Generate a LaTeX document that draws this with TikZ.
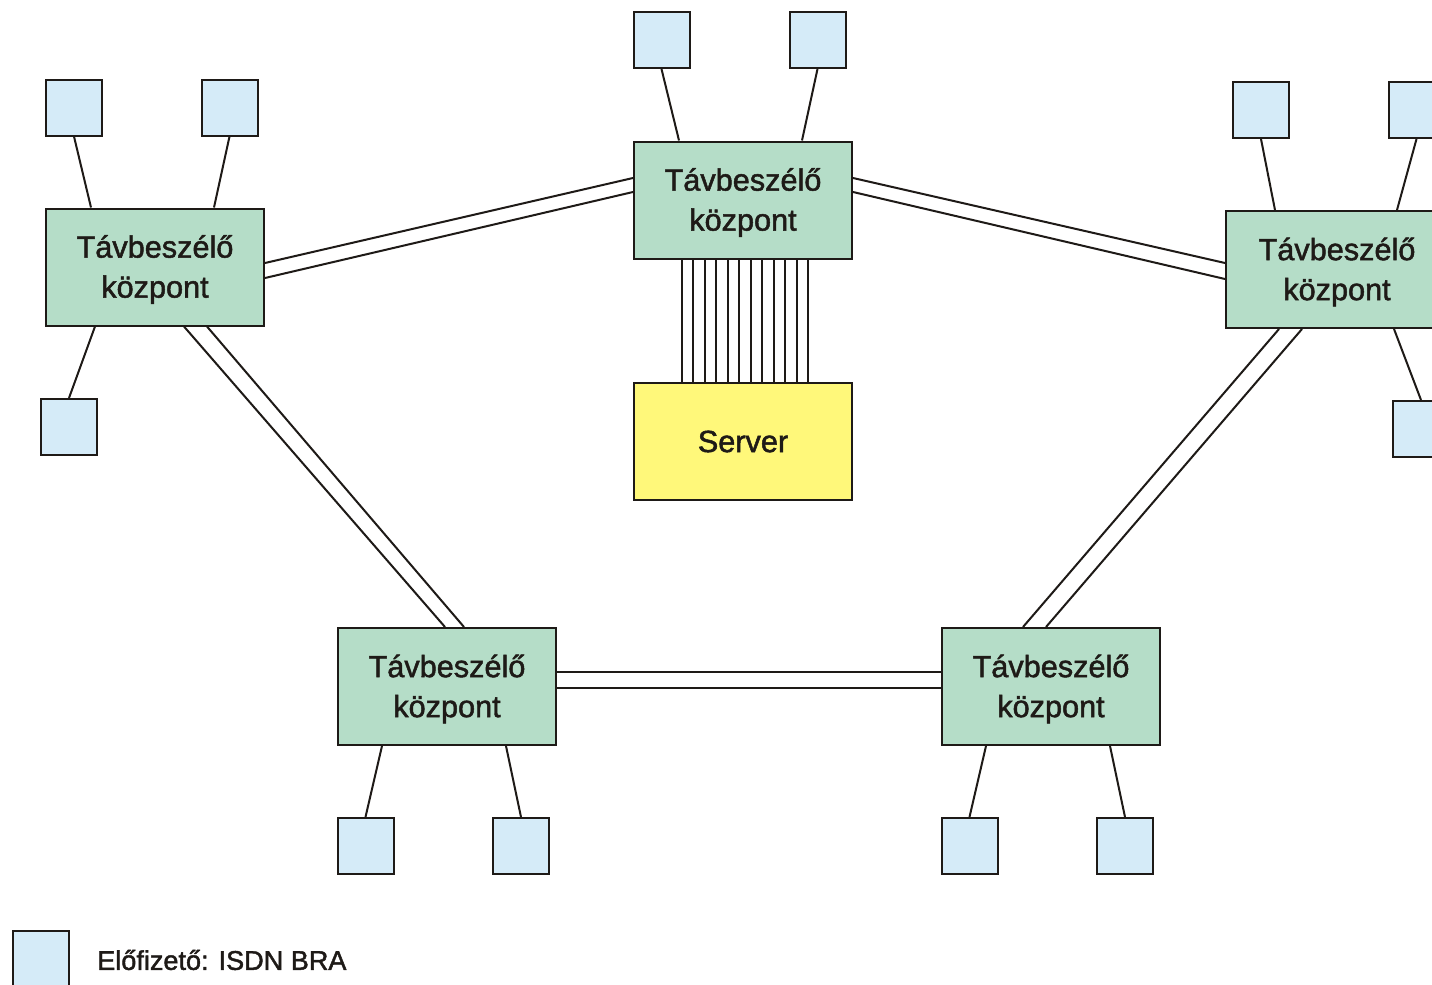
\documentclass[tikz,border=0pt]{standalone}
\usepackage{fontspec}
\setmainfont{Liberation Sans}[FakeBold=1.6]
\usetikzlibrary{calc}
\definecolor{ink}{HTML}{1E1A17}
\definecolor{exgreen}{HTML}{B5DDC8}
\definecolor{subblue}{HTML}{D5EBF8}
\definecolor{srvyellow}{HTML}{FFF87A}
\tikzset{
  lw/.style={line width=1.5pt, draw=ink},
  boxtext/.style={text=ink, font=\fontsize{23}{30}\selectfont, align=center, inner sep=0pt},
  exch/.style={lw, fill=exgreen, minimum width=218*0.75pt, minimum height=117*0.75pt, inner sep=0pt,
     label={[boxtext, yshift=-2.5*0.75pt]center:Távbeszélő\\központ}},
  server/.style={lw, fill=srvyellow, minimum width=218*0.75pt, minimum height=117*0.75pt, inner sep=0pt, text=ink, font=\fontsize{23}{30}\selectfont},
  sub/.style={lw, fill=subblue, minimum width=56*0.75pt, minimum height=56*0.75pt, inner sep=0pt},
  wire/.style={line width=1.5pt, draw=ink},
  legtext/.style={text=ink, font=\fontsize{20.3}{26}\selectfont, anchor=west, inner sep=0pt}
}
\begin{document}
\begin{tikzpicture}[x=0.75pt,y=-0.75pt]
\useasboundingbox (0,0) rectangle (1432,985);
\clip (0,0) rectangle (1432,985);
% exchanges
\node[exch] (T) at (743,200) {};
\node[exch] (L) at (155,267) {};
\node[exch, minimum width=222*0.75pt] (R) at (1337,269.5) {};
\node[exch] (BL) at (447,686.5) {};
\node[exch] (BR) at (1051,686.5) {};
\node[server] (S) at (743,441.5) {Server};
% subscribers
\node[sub] (t1) at (661.5,40) {};
\node[sub] (t2) at (817.5,40) {};
\node[sub] (l1) at (74,107.5) {};
\node[sub] (l2) at (229.5,107.5) {};
\node[sub] (l3) at (69,427) {};
\node[sub] (r1) at (1261,110) {};
\node[sub] (r2) at (1416.5,110) {};
\node[sub] (r3) at (1421,429) {};
\node[sub] (b1) at (365.5,846) {};
\node[sub] (b2) at (521,846) {};
\node[sub] (c1) at (969.5,846) {};
\node[sub] (c2) at (1125,846) {};
\node[sub] (leg) at (41,959) {};
\node[legtext] (legt) at (97,960) {Előfizető: ISDN BRA};
% subscriber lines
\draw[wire] (t1.south) -- ($(T.north west)+(46,0)$);
\draw[wire] (t2.south) -- ($(T.north west)+(169,0)$);
\draw[wire] (l1.south) -- ($(L.north west)+(46,0)$);
\draw[wire] (l2.south) -- ($(L.north west)+(169,0)$);
\draw[wire] (l3.north) -- ($(L.south west)+(50,0)$);
\draw[wire] (r1.south) -- ($(R.north west)+(50,0)$);
\draw[wire] (r2.south) -- ($(R.north west)+(172,0)$);
\draw[wire] (r3.north) -- ($(R.south west)+(169,0)$);
\draw[wire] (b1.north) -- ($(BL.south west)+(45,0)$);
\draw[wire] (b2.north) -- ($(BL.south west)+(169,0)$);
\draw[wire] (c1.north) -- ($(BR.south west)+(45,0)$);
\draw[wire] (c2.north) -- ($(BR.south west)+(169,0)$);
% trunk double lines
\draw[wire] ($(L.east)+(0,-4)$) -- ($(T.west)+(0,-22)$);
\draw[wire] ($(L.east)+(0,11)$) -- ($(T.west)+(0,-8)$);
\draw[wire] ($(T.east)+(0,-22)$) -- ($(R.west)+(0,-6.5)$);
\draw[wire] ($(T.east)+(0,-8)$) -- ($(R.west)+(0,9.5)$);
\draw[wire] ($(L.south west)+(139,0)$) -- ($(BL.north west)+(108,0)$);
\draw[wire] ($(L.south west)+(162,0)$) -- ($(BL.north west)+(127,0)$);
\draw[wire] ($(R.south west)+(54,0)$) -- ($(BR.north west)+(82,0)$);
\draw[wire] ($(R.south west)+(77,0)$) -- ($(BR.north west)+(105,0)$);
\draw[wire] ($(BL.east)+(0,-14.5)$) -- ($(BR.west)+(0,-14.5)$);
\draw[wire] ($(BL.east)+(0,1.5)$) -- ($(BR.west)+(0,1.5)$);
% server bundle
\foreach \o in {49.3,60,72.3,83,95.3,106,118.3,129,141.3,152,164,174.7}
  \draw[wire] ($(T.south west)+(\o,0)$) -- ($(S.north west)+(\o,0)$);
\end{tikzpicture}
\end{document}
